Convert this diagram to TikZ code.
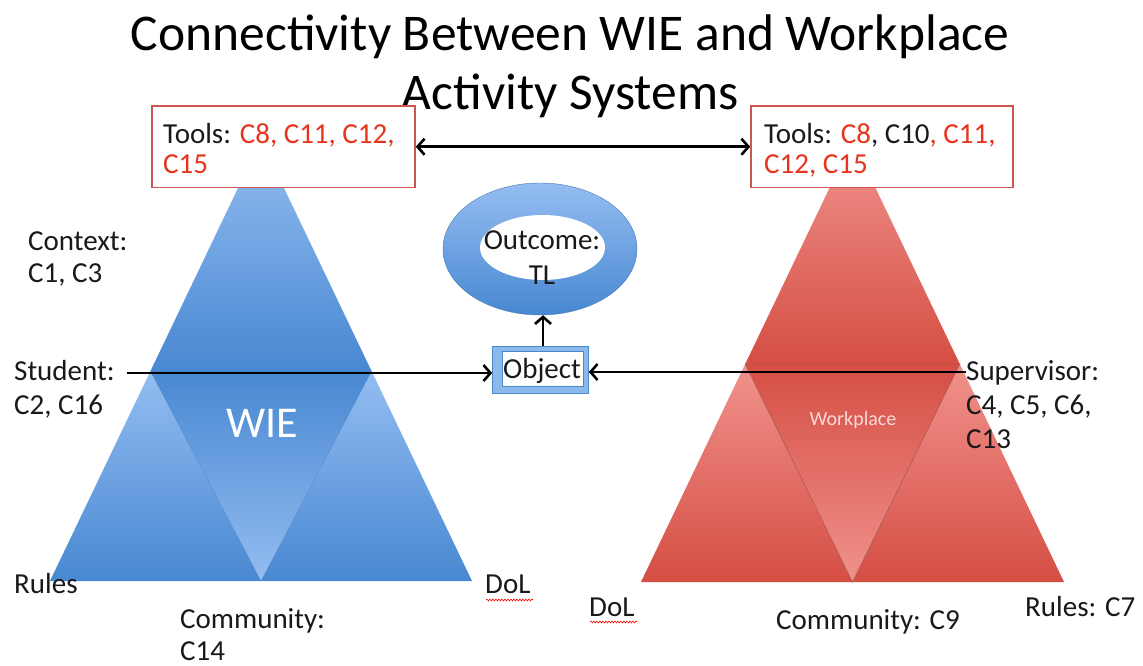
\documentclass[tikz,border=0pt]{standalone}
\usepackage{fontspec}
\setmainfont{Carlito}
\usetikzlibrary{arrows.meta,decorations.pathmorphing,shapes.geometric}
\definecolor{tred}{RGB}{232,52,30}
\definecolor{txt}{RGB}{25,25,25}
\definecolor{bl}{RGB}{148,189,241}
\definecolor{bd}{RGB}{72,136,210}
\definecolor{bedge}{RGB}{70,120,185}
\definecolor{rl}{RGB}{240,146,140}
\definecolor{rd}{RGB}{213,78,68}
\definecolor{redge}{RGB}{170,85,80}
\definecolor{boxred}{RGB}{205,85,80}
\definecolor{objdark}{RGB}{75,135,205}
\definecolor{objlight}{RGB}{140,185,236}
\definecolor{wpl}{RGB}{250,218,214}
\begin{document}
\begin{tikzpicture}[x=1pt,y=-1pt,
  lbl/.style={anchor=base west,inner sep=0pt,text=txt,font=\fontsize{29}{33}\selectfont},
  ctr/.style={anchor=base,inner sep=0pt,text=txt,font=\fontsize{29}{33}\selectfont},
  ttl/.style={anchor=base,inner sep=0pt,text=black,font=\fontsize{51.5}{60}\selectfont},
  toolbox/.style={draw=boxred,line width=1.6pt,fill=white,inner sep=0pt},
  arr/.style={draw=black,line width=2.6pt,-{Straight Barb[length=7pt,width=16pt]}},
  arrr/.style={draw=black,line width=2.6pt,{Straight Barb[length=7pt,width=16pt]}-{Straight Barb[length=7pt,width=16pt]}},
  squig/.style={draw=red,line width=0.6pt,decorate,decoration={snake,segment length=3pt,amplitude=0.9pt}},
  bedg/.style={draw=bedge,line width=0.5pt,opacity=0.6},
  redg/.style={draw=redge,line width=0.8pt,opacity=0.8}]
\useasboundingbox (0,0) rectangle (1143,666);
\fill[white] (0,0) rectangle (1143,666);

% title
\node[ttl] (t1) at (570,51) {Connectivity Between WIE and Workplace};
\node[ttl] (t2) at (570,110) {Activity Systems};

% left triangle
\coordinate (LA) at (261,140); \coordinate (LL) at (50,581); \coordinate (LR) at (472,581);
\coordinate (LmL) at (150.5,371); \coordinate (LmR) at (371.5,371); \coordinate (LmB) at (261,581);
\path[top color=bl,bottom color=bd] (LA) -- (LmL) -- (LmR) -- cycle;
\path[top color=bl,bottom color=bd] (LmL) -- (LL) -- (LmB) -- cycle;
\path[top color=bl,bottom color=bd] (LmR) -- (LmB) -- (LR) -- cycle;
\path[top color=bd,bottom color=bl] (LmL) -- (LmR) -- (LmB) -- cycle;
\draw[bedg] (LmL) -- (LmB) -- (LmR) -- cycle;

% right triangle
\coordinate (RA) at (852.5,140); \coordinate (RL) at (641,582); \coordinate (RR) at (1064,582);
\coordinate (RmL) at (745.2,364); \coordinate (RmR) at (959.8,364); \coordinate (RmB) at (852.5,582);
\path[top color=rl,bottom color=rd] (RA) -- (RmL) -- (RmR) -- cycle;
\path[top color=rl,bottom color=rd] (RmL) -- (RL) -- (RmB) -- cycle;
\path[top color=rl,bottom color=rd] (RmR) -- (RmB) -- (RR) -- cycle;
\path[top color=rd,bottom color=rl] (RmL) -- (RmR) -- (RmB) -- cycle;
\draw[redg] (RmL) -- (RmB) -- (RmR) -- cycle;

% tools boxes
\node[toolbox,minimum width=263pt,minimum height=81.5pt] (tl) at (283.5,146.75) {};
\node[toolbox,minimum width=262pt,minimum height=81.5pt] (tr) at (882,146.75) {};
\node[lbl] (tl1) at (163,143) {Tools: \textcolor{tred}{C8, C11, C12,}};
\node[lbl,text=tred] (tl2) at (163,173) {C15};
\node[lbl] (tr1) at (764,143) {Tools: \textcolor{tred}{C8}, C10\textcolor{tred}{, C11,}};
\node[lbl,text=tred] (tr2) at (764,173) {C12, C15};
\draw[arrr] (tl.east) -- (tr.west);

% outcome ring
\node[ellipse,minimum width=194pt,minimum height=132pt,inner sep=0pt,top color=bl,bottom color=bd,draw=bedge,line width=0.4pt] (out) at (540,249) {};
\node[ellipse,minimum width=125pt,minimum height=65pt,inner sep=0pt,fill=white] (outin) at (542.5,247.5) {};
\node[ctr] (o1) at (542,249) {Outcome:};
\node[ctr] (o2) at (542,284) {TL};

% object
\node[minimum width=95.6pt,minimum height=46.6pt,inner sep=0pt,fill=objlight,draw=objdark,line width=1pt] (obj) at (540.5,370) {};
\node[minimum width=81pt,minimum height=35pt,inner sep=0pt,fill=white,draw=objdark,line width=0.6pt] (objin) at (542.3,369.2) {};
\node[ctr] (objt) at (542,378) {Object};

% arrows
\draw[arr] (obj.north -| 543,0) -- (out.south -| 543,0);
\coordinate (sa) at (127,373);
\coordinate (sb) at (966,372);
\draw[arr] (sa) -- (sa -| obj.west);
\draw[arr] (sb) -- (sb -| obj.east);

% inner labels
\node[anchor=base,inner sep=0pt,text=white,font=\fontsize{44}{50}\selectfont] (wie) at (262,437) {WIE};
\node[anchor=base,inner sep=0pt,text=wpl,font=\fontsize{20}{24}\selectfont] (wp) at (853,425) {Workplace};

% left labels
\node[lbl] (c1) at (28,250) {Context:};
\node[lbl] (c2) at (28,282) {C1, C3};
\node[lbl] (s1) at (14,380) {Student:};
\node[lbl] (s2) at (14,414) {C2, C16};
\node[lbl] (ru) at (14,593) {Rules};
\node[lbl] (dl) at (485,593) {DoL};
\draw[squig] (486,600) -- (533,600);
\node[lbl] (cm1) at (180,628) {Community:};
\node[lbl] (cm2) at (180,660) {C14};

% right labels
\node[lbl] (sp1) at (966,380) {Supervisor:};
\node[lbl] (sp2) at (966,414) {C4, C5, C6,};
\node[lbl] (sp3) at (966,448) {C13};
\node[lbl] (dr) at (589,616) {DoL};
\draw[squig] (590,622) -- (637,622);
\node[lbl] (cm3) at (776,629) {Community: C9};
\node[lbl] (rr) at (1025,616) {Rules: C7};
\end{tikzpicture}
\end{document}
